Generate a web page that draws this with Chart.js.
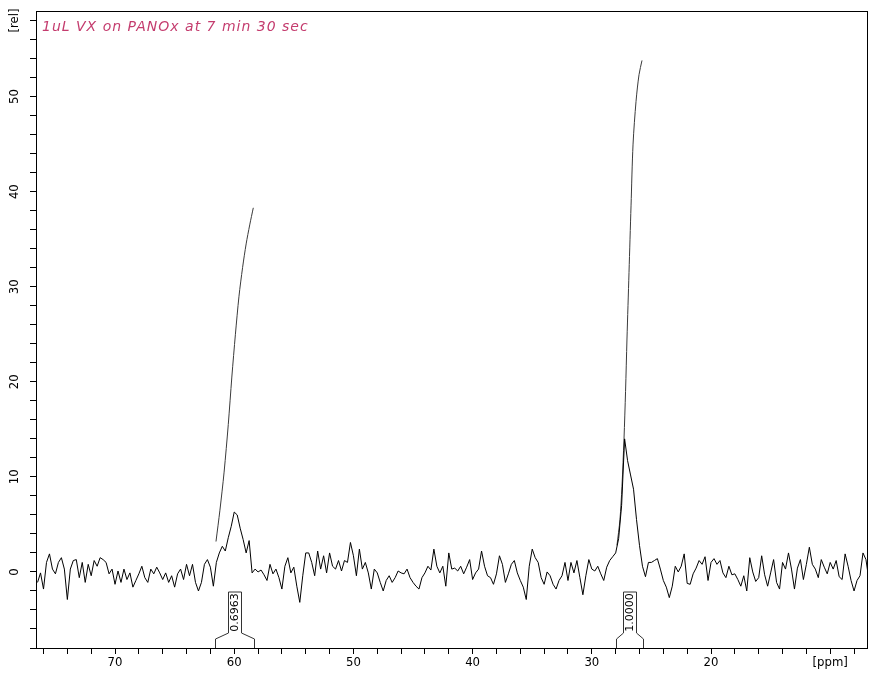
<!DOCTYPE html>
<html>
<head>
<meta charset="utf-8">
<script src="https://cdn.jsdelivr.net/npm/chart.js@4.4.1/dist/chart.umd.min.js"></script>
<style>
    html, body { margin: 0; padding: 0; background: #fff; }
    canvas { display: block; }
</style>
</head>
<body>
<canvas id="spectrum" width="870" height="676"></canvas>
<script>
const specStart = 76.5;
const specStep = 0.25;
const specValues = [
    -1.1, -0.1, -1.8, 1.0, 1.9, 0.3, -0.2, 1.0, 1.5, 0.3,
    -2.9, 0.3, 1.2, 1.3, -0.6, 1.0, -1.1, 0.8, -0.4, 1.2,
    0.6, 1.5, 1.3, 1.0, -0.2, 0.3, -1.3, 0.1, -1.1, 0.3,
    -0.8, -0.1, -1.6, -0.9, -0.2, 0.6, -0.6, -1.1, 0.3, -0.2,
    0.5, -0.1, -0.8, -0.1, -1.1, -0.4, -1.6, -0.2, 0.3, -0.8,
    0.8, -0.4, 0.8, -1.1, -2.0, -1.1, 0.8, 1.3, 0.5, -1.5,
    1.0, 2.0, 2.7, 2.2, 3.6, 4.8, 6.3, 6.0, 4.6, 3.4,
    2.0, 3.3, -0.1, 0.3, 0.0, 0.2, -0.3, -0.9, 0.8, -0.2,
    0.3, -0.6, -1.8, 0.6, 1.5, -0.1, 0.5, -1.5, -3.2, -0.4,
    2.0, 2.0, 1.0, -0.4, 2.2, 0.3, 1.7, -0.1, 2.0, 0.6,
    0.3, 1.2, 0.1, 1.2, 1.0, 3.1, 1.7, -0.4, 2.4, 0.3,
    1.0, -0.1, -1.8, 0.3, -0.1, -1.1, -2.0, -0.9, -0.4, -1.1,
    -0.6, 0.1, -0.1, -0.2, 0.3, -0.6, -1.1, -1.5, -1.8, -0.6,
    -0.1, 0.6, 0.2, 2.4, 0.6, -0.1, 0.6, -1.5, 2.0, 0.3,
    0.4, 0.1, 0.6, -0.2, 0.5, 1.3, -0.8, -0.1, 0.3, 2.2,
    0.6, -0.4, -0.6, -1.3, -0.2, 1.7, 0.8, -1.1, -0.2, 0.8,
    1.2, -0.1, -0.9, -1.6, -2.9, 0.6, 2.4, 1.5, 1.0, -0.6,
    -1.3, 0.0, -0.4, -1.3, -1.8, -0.9, -0.4, 1.0, -0.9, 1.0,
    -0.1, 1.2, -0.6, -2.4, -0.4, 1.3, 0.3, 0.1, 0.6, -0.2,
    -0.9, 0.5, 1.2, 1.6, 2.0, 3.5, 7.0, 14.0, 11.7, 10.2,
    8.7, 5.5, 2.8, 0.6, -0.5, 1.0, 1.0, 1.2, 1.4, 0.3,
    -0.9, -1.6, -2.7, -1.5, 0.6, 0.0, 0.6, 1.9, -1.2, -1.3,
    -0.2, 0.4, 1.2, 0.8, 1.6, -0.9, 1.0, 1.4, 0.8, 1.2,
    -0.1, -0.6, 0.6, -0.3, -0.2, -0.8, -1.5, -0.4, -2.0, 1.5,
    0.0, -1.0, -0.6, 1.7, -0.3, -1.5, -0.1, 1.3, -1.1, -1.8,
    1.0, 0.3, 2.0, 0.3, -1.8, 0.4, 1.3, -0.8, 0.8, 2.6,
    0.8, 0.3, -0.6, 1.3, 0.5, -0.2, 1.0, 0.3, 1.2, -0.5,
    -0.8, 1.9, 0.6, -0.9, -2.0, -0.9, -0.4, 2.0, 1.3, -0.9
];

// integral curves
const integral1Ppm = [61.53, 61.2, 60.85, 60.5, 60.2, 59.9, 59.6, 59.3, 59.0, 58.7, 58.4];
const integral1Val = [3.2, 6.5, 10.5, 15.5, 20.5, 25.0, 29.0, 32.0, 34.5, 36.5, 38.3];
const integral2Ppm = [27.89, 27.64, 27.47, 27.3, 27.17, 27.05, 26.88, 26.71, 26.54, 26.29, 26.04, 25.79];
const integral2Val = [2.8, 5.5, 9.0, 14.0, 19.0, 24.5, 31.5, 38.5, 45.0, 49.5, 52.3, 53.8];

// integration regions and their labels
const regionFrom = [61.6, 27.97];
const regionTo = [58.3, 25.7];
const regionLabels = ['0.6963', '1.0000'];

// axes
const xMin = 6.83;
const xMax = 76.63;
const xTickFrom = 8;
const xTickTo = 76;
const xLabelValues = [70, 60, 50, 40, 30, 20, 10];
const xLabelTexts = ['70', '60', '50', '40', '30', '20', '[ppm]'];
const yMin = -8;
const yMax = 59;
const yTickFrom = -8;
const yTickTo = 58;
const yLabelValues = [0, 10, 20, 30, 40, 50, 58];
const yLabelTexts = ['0', '10', '20', '30', '40', '50', '[rel]'];
const tickStep = 2;

const titleText = '1uL VX on PANOx at 7 min 30 sec';

const axisFont = { family: "'DejaVu Sans Condensed', 'Liberation Sans Narrow', 'DejaVu Sans', sans-serif", size: 13 };

function stepTicks(from, to) {
    const out = [];
    for (let v = from; v <= to; v += tickStep) {
        out.push({ value: v });
    }
    return out;
}

const framePlugin = {
    id: 'frame',
    afterDatasetsDraw(chart) {
        const { ctx, chartArea: a, scales } = chart;
        ctx.save();
        ctx.strokeStyle = '#000';
        ctx.lineWidth = 1;
        ctx.strokeRect(Math.round(a.left) + 0.5, Math.round(a.top) + 0.5,
            Math.round(a.right - a.left) - 1, Math.round(a.bottom - a.top));

        // integral brackets with their values
        ctx.strokeStyle = '#333';
        ctx.fillStyle = '#000';
        ctx.font = "11px 'DejaVu Sans', sans-serif";
        ctx.textAlign = 'center';
        ctx.textBaseline = 'middle';
        const bottom = a.bottom;
        regionFrom.forEach((from, i) => {
            const xa = Math.round(scales.x.getPixelForValue(from)) + 0.5;
            const xb = Math.round(scales.x.getPixelForValue(regionTo[i])) + 0.5;
            const mid = Math.round((xa + xb) / 2);
            const half = 6.5;
            ctx.beginPath();
            ctx.moveTo(xa, bottom);
            ctx.lineTo(xa, bottom - 9);
            ctx.lineTo(mid - half, bottom - 15);
            ctx.lineTo(mid - half, bottom - 56);
            ctx.lineTo(mid + half, bottom - 56);
            ctx.lineTo(mid + half, bottom - 15);
            ctx.lineTo(xb, bottom - 9);
            ctx.lineTo(xb, bottom);
            ctx.stroke();
            ctx.save();
            ctx.translate(mid + 0.5, bottom - 35.5);
            ctx.rotate(-Math.PI / 2);
            ctx.fillText(regionLabels[i], 0, 0);
            ctx.restore();
        });

        ctx.font = "italic 14px 'DejaVu Sans', sans-serif";
        ctx.letterSpacing = '1px';
        ctx.fillStyle = '#c43c6e';
        ctx.textAlign = 'left';
        ctx.textBaseline = 'alphabetic';
        ctx.fillText(titleText, a.left + 6, a.top + 20);
        ctx.restore();
    },
};

new Chart(document.getElementById('spectrum'), {
    type: 'line',
    data: {
        datasets: [
            {
                data: specValues.map((v, i) => ({ x: specStart - i * specStep, y: v })),
                borderColor: '#000',
                borderWidth: 1,
                pointRadius: 0,
                tension: 0,
            },
            {
                data: integral1Ppm.map((p, i) => ({ x: p, y: integral1Val[i] })),
                borderColor: '#3a3a3a',
                borderWidth: 1,
                pointRadius: 0,
                tension: 0.3,
            },
            {
                data: integral2Ppm.map((p, i) => ({ x: p, y: integral2Val[i] })),
                borderColor: '#3a3a3a',
                borderWidth: 1,
                pointRadius: 0,
                tension: 0.3,
            },
        ],
    },
    options: {
        responsive: false,
        animation: false,
        parsing: false,
        layout: { padding: { top: 11, right: 2, left: 0, bottom: 0 } },
        plugins: { legend: { display: false }, tooltip: { enabled: false } },
        scales: {
            x: {
                type: 'linear',
                reverse: true,
                min: xMin,
                max: xMax,
                afterBuildTicks: (scale) => { scale.ticks = stepTicks(xTickFrom, xTickTo); },
                afterFit: (scale) => { scale.height = 28; },
                border: { display: false },
                grid: { drawOnChartArea: false, drawTicks: true, tickLength: 6, color: '#000' },
                ticks: {
                    autoSkip: false,
                    maxRotation: 0,
                    padding: 1,
                    color: '#000',
                    font: axisFont,
                    callback: (v) => {
                        const k = xLabelValues.indexOf(v);
                        return k >= 0 ? xLabelTexts[k] : '';
                    },
                },
            },
            y: {
                type: 'linear',
                min: yMin,
                max: yMax,
                afterBuildTicks: (scale) => { scale.ticks = stepTicks(yTickFrom, yTickTo); },
                afterFit: (scale) => { scale.width = 36; },
                border: { display: false },
                grid: { drawOnChartArea: false, drawTicks: true, tickLength: 6, color: '#000' },
                ticks: {
                    autoSkip: false,
                    minRotation: 90,
                    maxRotation: 90,
                    crossAlign: 'center',
                    padding: 3,
                    color: '#000',
                    font: axisFont,
                    callback: (v) => {
                        const k = yLabelValues.indexOf(v);
                        return k >= 0 ? yLabelTexts[k] : '';
                    },
                },
            },
        },
    },
    plugins: [framePlugin],
});
</script>
</body>
</html>
